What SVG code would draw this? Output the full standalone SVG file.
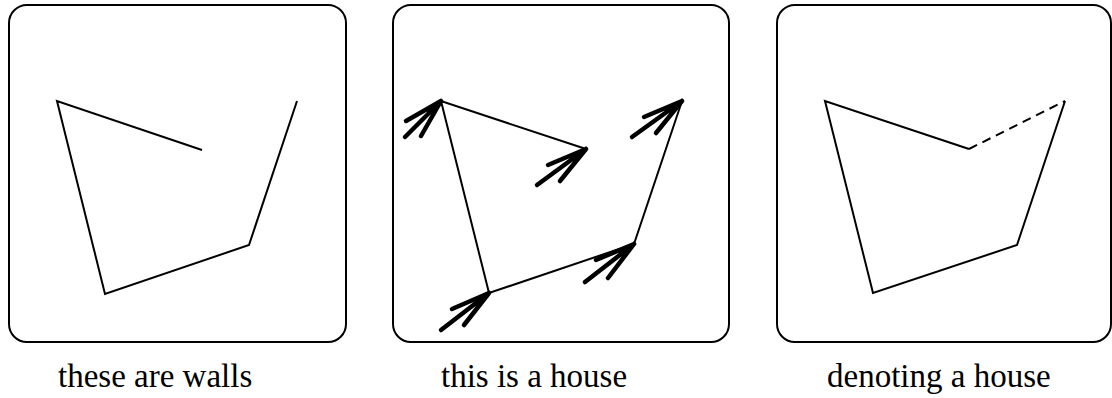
<svg xmlns="http://www.w3.org/2000/svg" width="1112" height="398" viewBox="0 0 1112 398">
<style>
.box{fill:none;stroke:#000;stroke-width:2}
.wall{fill:none;stroke:#000;stroke-width:2;stroke-linejoin:miter}
.dash{fill:none;stroke:#000;stroke-width:2;stroke-dasharray:9 6}
.arr{fill:none;stroke:#000;stroke-width:4.5;stroke-linecap:round}
.lbl{font-family:"Liberation Serif","Times New Roman",serif;font-size:33px;fill:#000}
</style>
<rect width="1112" height="398" fill="#fff"/>
<g id="panel-walls">
<rect class="box" x="9" y="5" width="337" height="337" rx="18" ry="18"/>
<polyline class="wall" points="202,150 57,101 105,294 249,245 297,101"/>
<text class="lbl" x="58" y="387">these are walls</text>
</g>
<g id="panel-house">
<rect class="box" x="393" y="5" width="336" height="337" rx="18" ry="18"/>
<polyline class="wall" points="586,149 441,101 489,293 634,244 682,101"/>
<g id="arrows">
<path class="arr" d="M441,101 L405,137 M441,101 L406,121 M441,101 L421,136"/>
<path class="arr" d="M586,149 L537,185 M586,149 L548,165 M586,149 L560,181"/>
<path class="arr" d="M682,101 L632,137 M682,101 L644,117 M682,101 L656,133"/>
<path class="arr" d="M634,244 L585,282 M634,244 L596,260 M634,244 L608,278"/>
<path class="arr" d="M489,293 L441,330 M489,293 L452,309 M489,293 L464,325"/>
</g>
<text class="lbl" x="441" y="387">this is a house</text>
</g>
<g id="panel-denoting">
<rect class="box" x="777" y="5" width="334" height="337" rx="18" ry="18"/>
<polyline class="wall" points="969,149 825,101 873,293 1017,245 1065,101"/>
<line class="dash" x1="969" y1="149" x2="1065" y2="101"/>
<text class="lbl" x="827" y="387">denoting a house</text>
</g>
</svg>
